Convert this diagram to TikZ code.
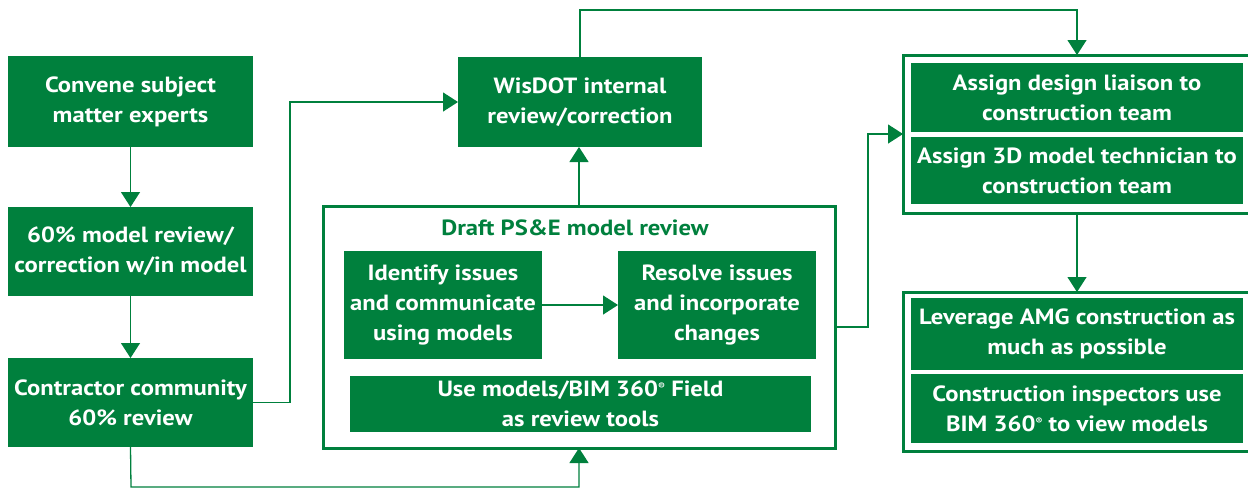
\documentclass[tikz,border=0pt]{standalone}
\usepackage{fontspec}
\setmainfont[FakeStretch=1.12]{PT Sans}
\usetikzlibrary{arrows.meta,calc}
\definecolor{wg}{RGB}{0,128,61}
\newcommand{\regm}{{\fontsize{9}{9}\selectfont\raisebox{7pt}{®}}}
\begin{document}
\begin{tikzpicture}[x=1pt,y=-1pt,
  box/.style={fill=wg,draw=none,inner sep=0pt,outer sep=0pt,text=white,align=center,
    font=\fontsize{22}{30}\selectfont\bfseries},
  grp/.style={draw=wg,line width=3pt,fill=none,inner sep=0pt,outer sep=0pt},
  conn/.style={draw=wg!85,line width=1.3pt,-{Triangle[width=19pt,length=15pt]},color=wg},
  plain/.style={draw=wg!85,line width=1.3pt}]
\useasboundingbox (0,0) rectangle (1248,488);
\clip (0,0) rectangle (1248,488);
% left column
\node[box,minimum width=245pt,minimum height=91pt] (b1) at (130.5,101.5) {Convene subject\\matter experts};
\node[box,minimum width=245pt,minimum height=89pt] (b2) at (130.5,251.5) {60\% model review/\\correction w/in model};
\node[box,minimum width=245pt,minimum height=89pt] (b3) at (130.5,402.5) {Contractor community\\60\% review};
% WisDOT
\node[box,minimum width=244pt,minimum height=90pt] (wis) at (580,102) {WisDOT internal\\review/correction};
% Draft group
\node[grp,minimum width=512pt,minimum height=242pt] (draft) at (579,327) {};
\node[text=wg,font=\fontsize{22}{30}\selectfont\bfseries,inner sep=0pt] (dtitle) at (575,228) {Draft PS\&E model review};
\node[box,minimum width=198pt,minimum height=108pt] (iden) at (443,305) {Identify issues\\and communicate\\using models};
\node[box,minimum width=198pt,minimum height=108pt] (reso) at (717,305) {Resolve issues\\and incorporate\\changes};
\node[box,minimum width=461pt,minimum height=56pt] (use) at (580.5,404) {Use models/BIM 360\regm{} Field\\as review tools};
% right top group
\node[grp,minimum width=348pt,minimum height=158pt] (tg) at (1077,134) {};
\node[box,minimum width=332pt,minimum height=69pt] (ta) at (1077,97.5) {Assign design liaison to\\construction team};
\node[box,minimum width=332pt,minimum height=67pt] (tb) at (1077,170.5) {Assign 3D model technician to\\construction team};
% right bottom group
\node[grp,minimum width=348pt,minimum height=159pt] (bg) at (1077,371.5) {};
\node[box,minimum width=332pt,minimum height=72pt] (bc) at (1077,334) {Leverage AMG construction as\\much as possible};
\node[box,minimum width=332pt,minimum height=69pt] (bd) at (1077,408.5) {Construction inspectors use\\BIM 360\regm{} to view models};
% connectors
\coordinate (bl) at (131,487);
\coordinate (tr) at (1077,10);
\draw[conn] (b1) -- (b2);
\draw[conn] (b2) -- (b3);
\draw[conn] (b3.east) -- ++(37,0) |- (wis.west);
\draw[conn] (b3.south) -- (bl) -| (draft.south);
\draw[conn] (draft.north) -- (draft.north |- wis.south);
\draw[conn] (wis.north) |- (tr) -- (tg.north);
\draw[conn] (iden) -- (reso);
\draw[conn] (draft.east) -- ++(33,0) |- (tg.west);
\draw[conn] (tg.south) -- (bg.north);
\end{tikzpicture}
\end{document}
